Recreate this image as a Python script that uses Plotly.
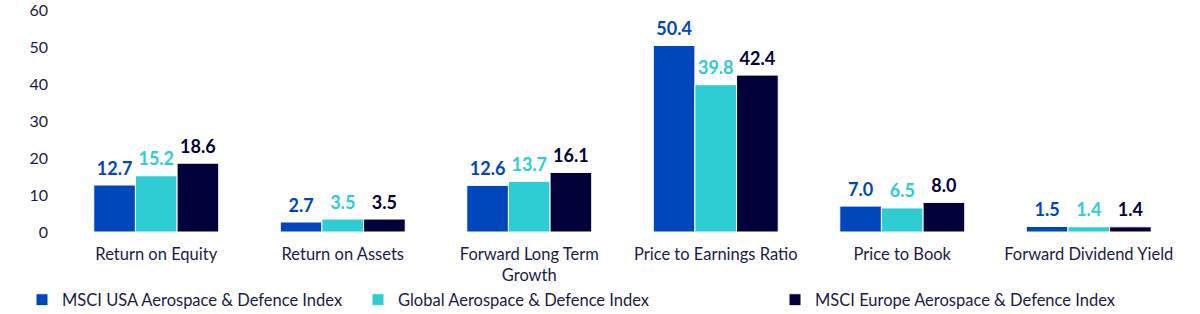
import plotly.graph_objects as go

categories = ["Return on Equity", "Return on Assets", "Forward Long Term<br>Growth",
              "Price to Earnings Ratio", "Price to Book", "Forward Dividend Yield"]
series_names = ["MSCI USA Aerospace & Defence Index",
                "Global Aerospace & Defence Index",
                "MSCI Europe Aerospace & Defence Index"]
usa = [12.7, 2.7, 12.6, 50.4, 7.0, 1.5]
glob = [15.2, 3.5, 13.7, 39.8, 6.5, 1.4]
europe = [18.6, 3.5, 16.1, 42.4, 8.0, 1.4]
colors = ["#0047BB", "#2ECCD3", "#02013A"]
legend_ids = ["legend", "legend2", "legend3"]
legend_x = [44, 380, 797]
text_color = "#1B1B4B"

fig = go.Figure()
for i, (name, vals, c, lg) in enumerate(zip(series_names, [usa, glob, europe], colors, legend_ids)):
    fig.add_trace(go.Bar(
        x=categories, y=vals, name=name, legend=lg, offsetgroup=str(i),
        marker=dict(color=c, line=dict(color="white", width=1)),
        cliponaxis=False,
    ))
for i, (vals, c) in enumerate(zip([usa, glob, europe], colors)):
    fig.add_trace(go.Scatter(
        x=categories, y=vals, mode="markers+text", offsetgroup=str(i),
        marker=dict(size=8, opacity=0), showlegend=False, hoverinfo="skip",
        texttemplate="<b>%{y:.1f}</b>", textposition="top center",
        textfont=dict(color=c, size=18, family="Lato"), cliponaxis=False,
    ))

layout_legends = {}
for lg, lx in zip(legend_ids, legend_x):
    layout_legends[lg] = dict(
        orientation="h", xref="container", yref="container",
        x=(lx - 22) / 1200, xanchor="left", y=(314 - 300) / 314, yanchor="middle",
        font=dict(size=16.5, color=text_color), itemwidth=30, bgcolor="rgba(0,0,0,0)",
    )

fig.update_layout(
    width=1200, height=314,
    margin=dict(l=63, r=18, t=10, b=82, autoexpand=False),
    paper_bgcolor="white", plot_bgcolor="white",
    barmode="group", bargap=0.33, bargroupgap=0,
    scattermode="group", scattergap=0.33,
    font=dict(family="Lato", color=text_color, size=16),
    xaxis=dict(showgrid=False, showline=False, ticks="", tickfont=dict(size=16.5),
               ticklabelstandoff=10),
    yaxis=dict(range=[0, 60], dtick=10, showgrid=False, showline=False, zeroline=False,
               tickfont=dict(size=16), ticklabelstandoff=14, ticklabeloverflow="allow"),
    showlegend=True,
    **layout_legends,
)
fig.write_html("out.html")
